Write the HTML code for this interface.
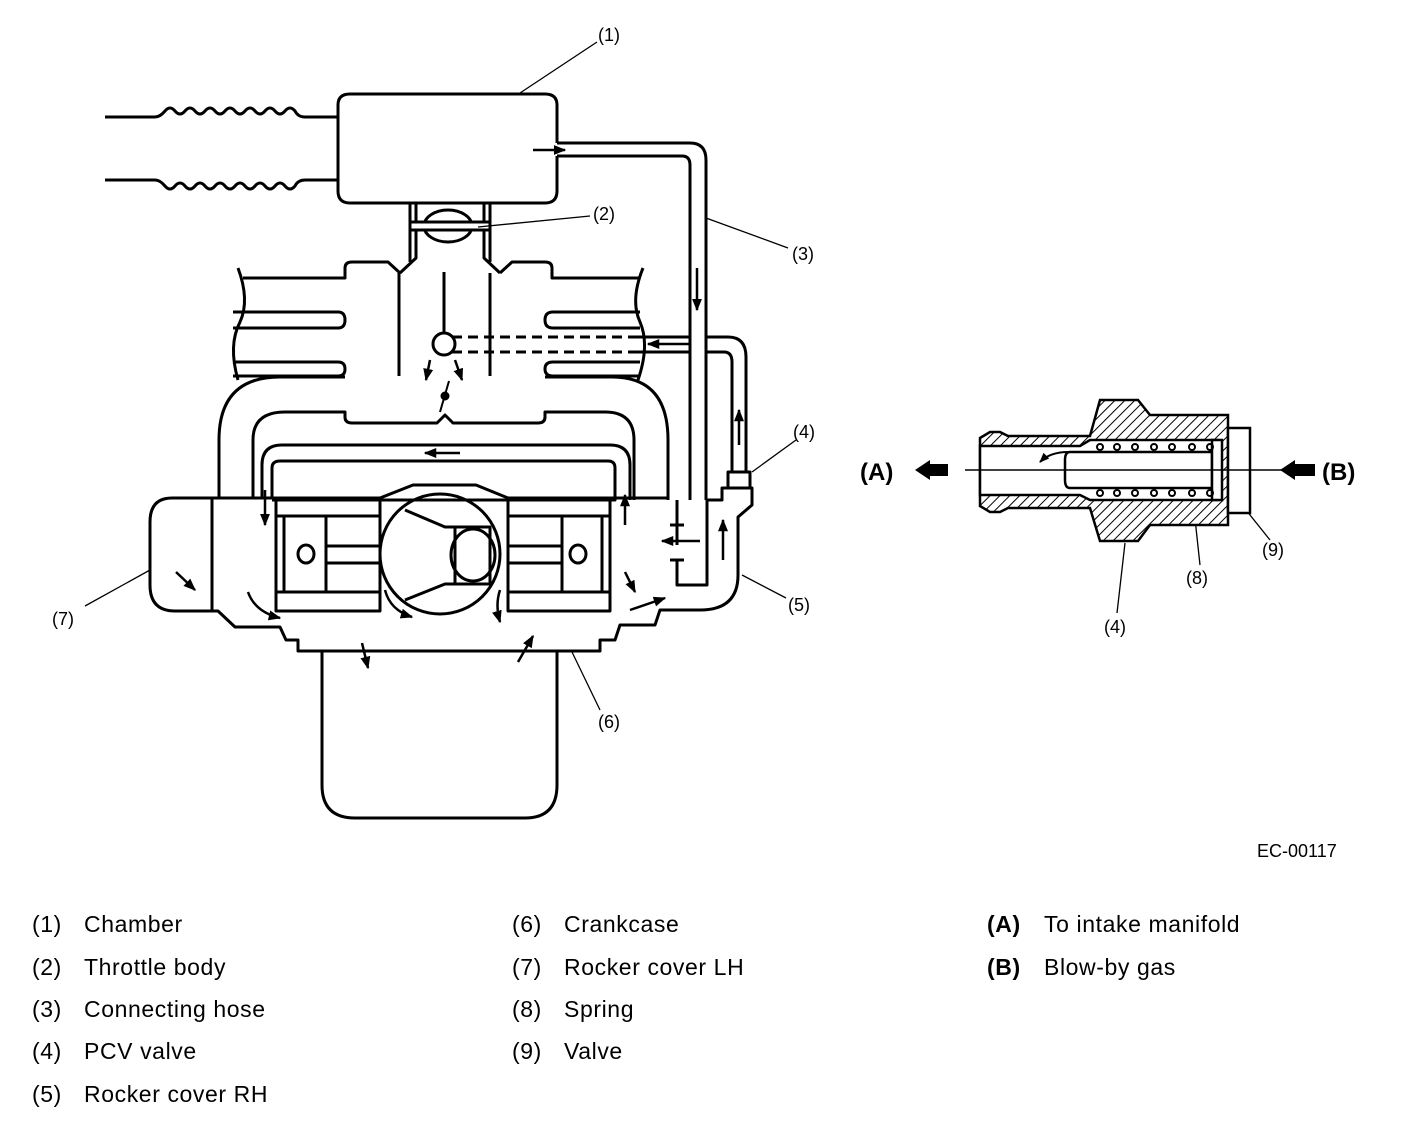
<!DOCTYPE html>
<html><head><meta charset="utf-8"><style>
html,body{margin:0;padding:0;background:#fff;}
svg{display:block;}
.t{font-family:"Liberation Sans",Arial,sans-serif;font-size:23px;letter-spacing:0.6px;fill:#000;}
.l{font-family:"Liberation Sans",Arial,sans-serif;font-size:18px;fill:#000;}
</style></head><body>
<svg width="1408" height="1138" viewBox="0 0 1408 1138" xmlns="http://www.w3.org/2000/svg">
<defs>
<marker id="ar" viewBox="0 0 10 10" refX="9" refY="5" markerWidth="5" markerHeight="5" orient="auto"><path d="M0,1 L10,5 L0,9 Z" fill="#000"/></marker>
<pattern id="h" width="7" height="7" patternUnits="userSpaceOnUse" patternTransform="rotate(45)"><rect width="7" height="7" fill="#fff"/><line x1="0" y1="0" x2="0" y2="7" stroke="#000" stroke-width="2"/></pattern>
</defs>
<g fill="none" stroke="#000" stroke-width="3" stroke-linejoin="round">
<!-- intake hoses -->
<path d="M105,117 H155 q5,0 10,-6 q5,-6 10,0 q5,6 10,0 q5,-6 10,0 q5,6 10,0 q5,-6 10,0 q5,6 10,0 q5,-6 10,0 q5,6 10,0 q5,-6 10,0 q5,6 10,0 q5,-6 10,0 q5,6 10,0 q5,-6 10,0 q3,6 10,6 H338"/>
<path d="M105,180 H155 q5,0 10,6 q5,6 10,0 q5,-6 10,0 q5,6 10,0 q5,-6 10,0 q5,6 10,0 q5,-6 10,0 q5,6 10,0 q5,-6 10,0 q5,6 10,0 q5,-6 10,0 q5,6 10,0 q5,-6 10,0 q5,6 10,0 q3,-6 10,-6 H338"/>
<!-- chamber -->
<path d="M557,143 V105 Q557,94 545,94 H350 Q338,94 338,105 V191 Q338,203 350,203 H545 Q557,203 557,191 V156"/>
<!-- hose 3 -->
<path d="M557,143 H690 Q706,143 706,160 V500"/>
<path d="M557,156 H682 Q690,156 690,165 V500"/>
<!-- throttle body -->
<path d="M410,203 V262 M416,203 V258 L400,273 M484,203 V258 L500,273 M490,203 V262"/>
<ellipse cx="448" cy="226" rx="24" ry="16"/>
<rect x="410" y="222" width="80" height="8" fill="#fff"/>
<!-- manifold -->
<path d="M243,278 H345 V268 Q345,262 352,262 H388 L400,273"/>
<path d="M500,273 L512,262 H545 Q552,262 552,268 V278 H640"/>
<path d="M399,273 V376 M490,273 V376 M444,272 V333"/>
<path d="M238,268 Q250,300 240,322 Q228,345 238,380"/>
<path d="M643,268 Q630,300 640,322 Q650,345 638,380"/>
<path d="M233,312 H338 Q345,312 345,320 Q345,328 338,328 H233"/>
<path d="M233,362 H338 Q345,362 345,369 Q345,376 338,376 H233"/>
<path d="M640,312 H553 Q545,312 545,320 Q545,328 553,328 H640"/>
<path d="M640,362 H553 Q545,362 545,369 Q545,376 553,376 H640"/>
<path d="M219,498 V440 Q219,377 280,377 H345 M545,377 H612 Q668,377 668,440 V500"/>
<path d="M253,498 V440 Q253,412 285,412 H345 V417 Q345,423 352,423 H437 L445,415 L453,423 H538 Q545,423 545,417 V412 H605 Q634,412 634,440 V500"/>
<path d="M262,498 V465 Q262,445 282,445 H610 Q630,445 630,465 V500"/>
<path d="M272,498 V468 Q272,461 280,461 H608 Q615,461 615,468 V500 H272"/>
<circle cx="444" cy="344" r="11"/>
<path d="M452,337 H630 M452,352 H630" stroke-dasharray="10,6"/>
<path d="M630,337 H690 M630,352 H690"/>
<!-- PCV hose -->
<path d="M706,337 H728 Q746,337 746,357 V472"/>
<path d="M706,352 H724 Q732,352 732,362 V472"/>
<rect x="728" y="472" width="22" height="16"/>
<path d="M706,500 H722 V488 H752 V505 L738,517 V575 Q738,610 700,610 H660 L655,625 H620 L615,640 H600 V651 H557"/>
<path d="M707,500 V585 H677 V560 M677,545 V525 M670,525 H684 M670,560 H684 M677,500 V525"/>
<!-- left rocker -->
<path d="M219,498 H172 Q150,498 150,522 V585 Q150,611 175,611 H218 L235,627 H280 L286,640 H298 V651 H322"/>
<path d="M212,498 V611"/>
<path d="M212,498 H276 M610,498 H668"/>
<!-- oil pan -->
<path d="M322,651 V785 Q322,818 355,818 H525 Q557,818 557,785 V651 M322,651 H557"/>
<!-- cylinders -->
<rect x="276" y="498" width="104" height="113"/>
<path d="M276,516 H380 M276,592 H380 M284,516 V592 M326,516 V592 M326,546 H380 M326,563 H380"/>
<ellipse cx="306" cy="554" rx="8" ry="9"/>
<rect x="508" y="498" width="102" height="113"/>
<path d="M508,516 H610 M508,592 H610 M602,516 V592 M562,516 V592 M508,546 H562 M508,563 H562"/>
<ellipse cx="578" cy="554" rx="8" ry="9"/>
<path d="M380,498 L413,485 H476 L508,498"/>
<circle cx="440" cy="554" r="60"/>
<path d="M405,510 L445,527 H490 M405,600 L445,584 H490"/>
<rect x="455" y="527" width="35" height="57"/>
<ellipse cx="473" cy="555" rx="22" ry="26"/>
<!-- arrows -->
<g stroke-width="2.5" marker-end="url(#ar)">
<path d="M533,150 H565"/><path d="M697,268 V310"/><path d="M690,344 H648"/>
<path d="M739,445 V410"/><path d="M460,453 H425"/><path d="M265,490 V525"/>
<path d="M625,525 V495"/><path d="M700,541 H662"/><path d="M723,560 V520"/>
<path d="M176,572 L195,590"/><path d="M430,360 L426,380"/><path d="M455,360 L462,380"/>
<path d="M248,592 Q255,612 280,618"/><path d="M385,590 Q390,610 412,617"/>
<path d="M500,590 Q495,605 500,622"/><path d="M625,572 L635,592"/>
<path d="M630,610 L665,598"/><path d="M362,643 L368,668"/><path d="M518,662 L533,636"/>
</g>
<circle cx="445" cy="396" r="3" fill="#000"/>
<path d="M449,381 L440,412" stroke-width="2"/>
</g>
<!-- leaders -->
<g stroke="#000" stroke-width="1.3" fill="none">
<path d="M597,42 L520,93"/><path d="M590,216 L478,227"/><path d="M788,248 L706,218"/>
<path d="M796,440 L752,472"/><path d="M786,598 L742,575"/><path d="M600,710 L572,652"/>
<path d="M85,606 L150,570"/>
<path d="M1270,540 L1242,505"/><path d="M1200,565 L1193,500"/><path d="M1117,613 L1125,543"/>
</g>
<text class="l" x="598" y="41">(1)</text>
<text class="l" x="593" y="220">(2)</text>
<text class="l" x="792" y="260">(3)</text>
<text class="l" x="793" y="438">(4)</text>
<text class="l" x="788" y="611">(5)</text>
<text class="l" x="598" y="728">(6)</text>
<text class="l" x="52" y="625">(7)</text>
<text class="l" x="1186" y="584">(8)</text>
<text class="l" x="1262" y="556">(9)</text>
<text class="l" x="1104" y="633">(4)</text>
<text class="l" x="1257" y="857">EC-00117</text>
<!-- PCV valve detail -->
<g stroke="#000" stroke-width="2.5">
<path d="M980,438 L990,432 H1000 L1008,436 H1090 L1100,400 H1138 L1150,415 H1228 V525 H1150 L1138,541 H1100 L1090,508 H1008 L1000,512 H990 L980,506 Z" fill="url(#h)"/>
<path d="M980,446 H1080 L1090,440 H1218 V500 H1090 L1080,495 H980 Z" fill="#fff"/>
<rect x="1228" y="428" width="22" height="85" fill="#fff"/>
<path d="M1070,452 H1212 V488 H1070 Q1065,488 1065,480 V460 Q1065,452 1070,452 Z" fill="#fff"/>
<rect x="1212" y="440" width="10" height="60" fill="#fff"/>
</g>
<g fill="none" stroke="#000" stroke-width="2">
<circle cx="1100" cy="447" r="3"/><circle cx="1117" cy="447" r="3"/><circle cx="1135" cy="447" r="3"/><circle cx="1154" cy="447" r="3"/><circle cx="1172" cy="447" r="3"/><circle cx="1192" cy="447" r="3"/><circle cx="1210" cy="447" r="3"/>
<circle cx="1100" cy="493" r="3"/><circle cx="1117" cy="493" r="3"/><circle cx="1135" cy="493" r="3"/><circle cx="1154" cy="493" r="3"/><circle cx="1172" cy="493" r="3"/><circle cx="1192" cy="493" r="3"/><circle cx="1210" cy="493" r="3"/>
<path d="M1068,452 Q1050,452 1040,462" marker-end="url(#ar)"/>
</g>
<line x1="965" y1="470" x2="1290" y2="470" stroke="#000" stroke-width="1.6"/>
<path d="M915,470 L930,460 V464 H948 V476 H930 V480 Z" fill="#000"/>
<path d="M1280,470 L1295,460 V464 H1315 V476 H1295 V480 Z" fill="#000"/>
<text x="860" y="480" style="font-family:'Liberation Sans',Arial,sans-serif;font-size:24px;font-weight:bold">(A)</text>
<text x="1322" y="480" style="font-family:'Liberation Sans',Arial,sans-serif;font-size:24px;font-weight:bold">(B)</text>
<!-- legend -->
<text class="t" x="32" y="932">(1)</text><text class="t" x="84" y="932">Chamber</text>
<text class="t" x="32" y="975">(2)</text><text class="t" x="84" y="975">Throttle body</text>
<text class="t" x="32" y="1017">(3)</text><text class="t" x="84" y="1017">Connecting hose</text>
<text class="t" x="32" y="1059">(4)</text><text class="t" x="84" y="1059">PCV valve</text>
<text class="t" x="32" y="1102">(5)</text><text class="t" x="84" y="1102">Rocker cover RH</text>
<text class="t" x="512" y="932">(6)</text><text class="t" x="564" y="932">Crankcase</text>
<text class="t" x="512" y="975">(7)</text><text class="t" x="564" y="975">Rocker cover LH</text>
<text class="t" x="512" y="1017">(8)</text><text class="t" x="564" y="1017">Spring</text>
<text class="t" x="512" y="1059">(9)</text><text class="t" x="564" y="1059">Valve</text>
<text class="t" x="987" y="932" font-weight="bold">(A)</text><text class="t" x="1044" y="932">To intake manifold</text>
<text class="t" x="987" y="975" font-weight="bold">(B)</text><text class="t" x="1044" y="975">Blow-by gas</text>
</svg>
</body></html>
